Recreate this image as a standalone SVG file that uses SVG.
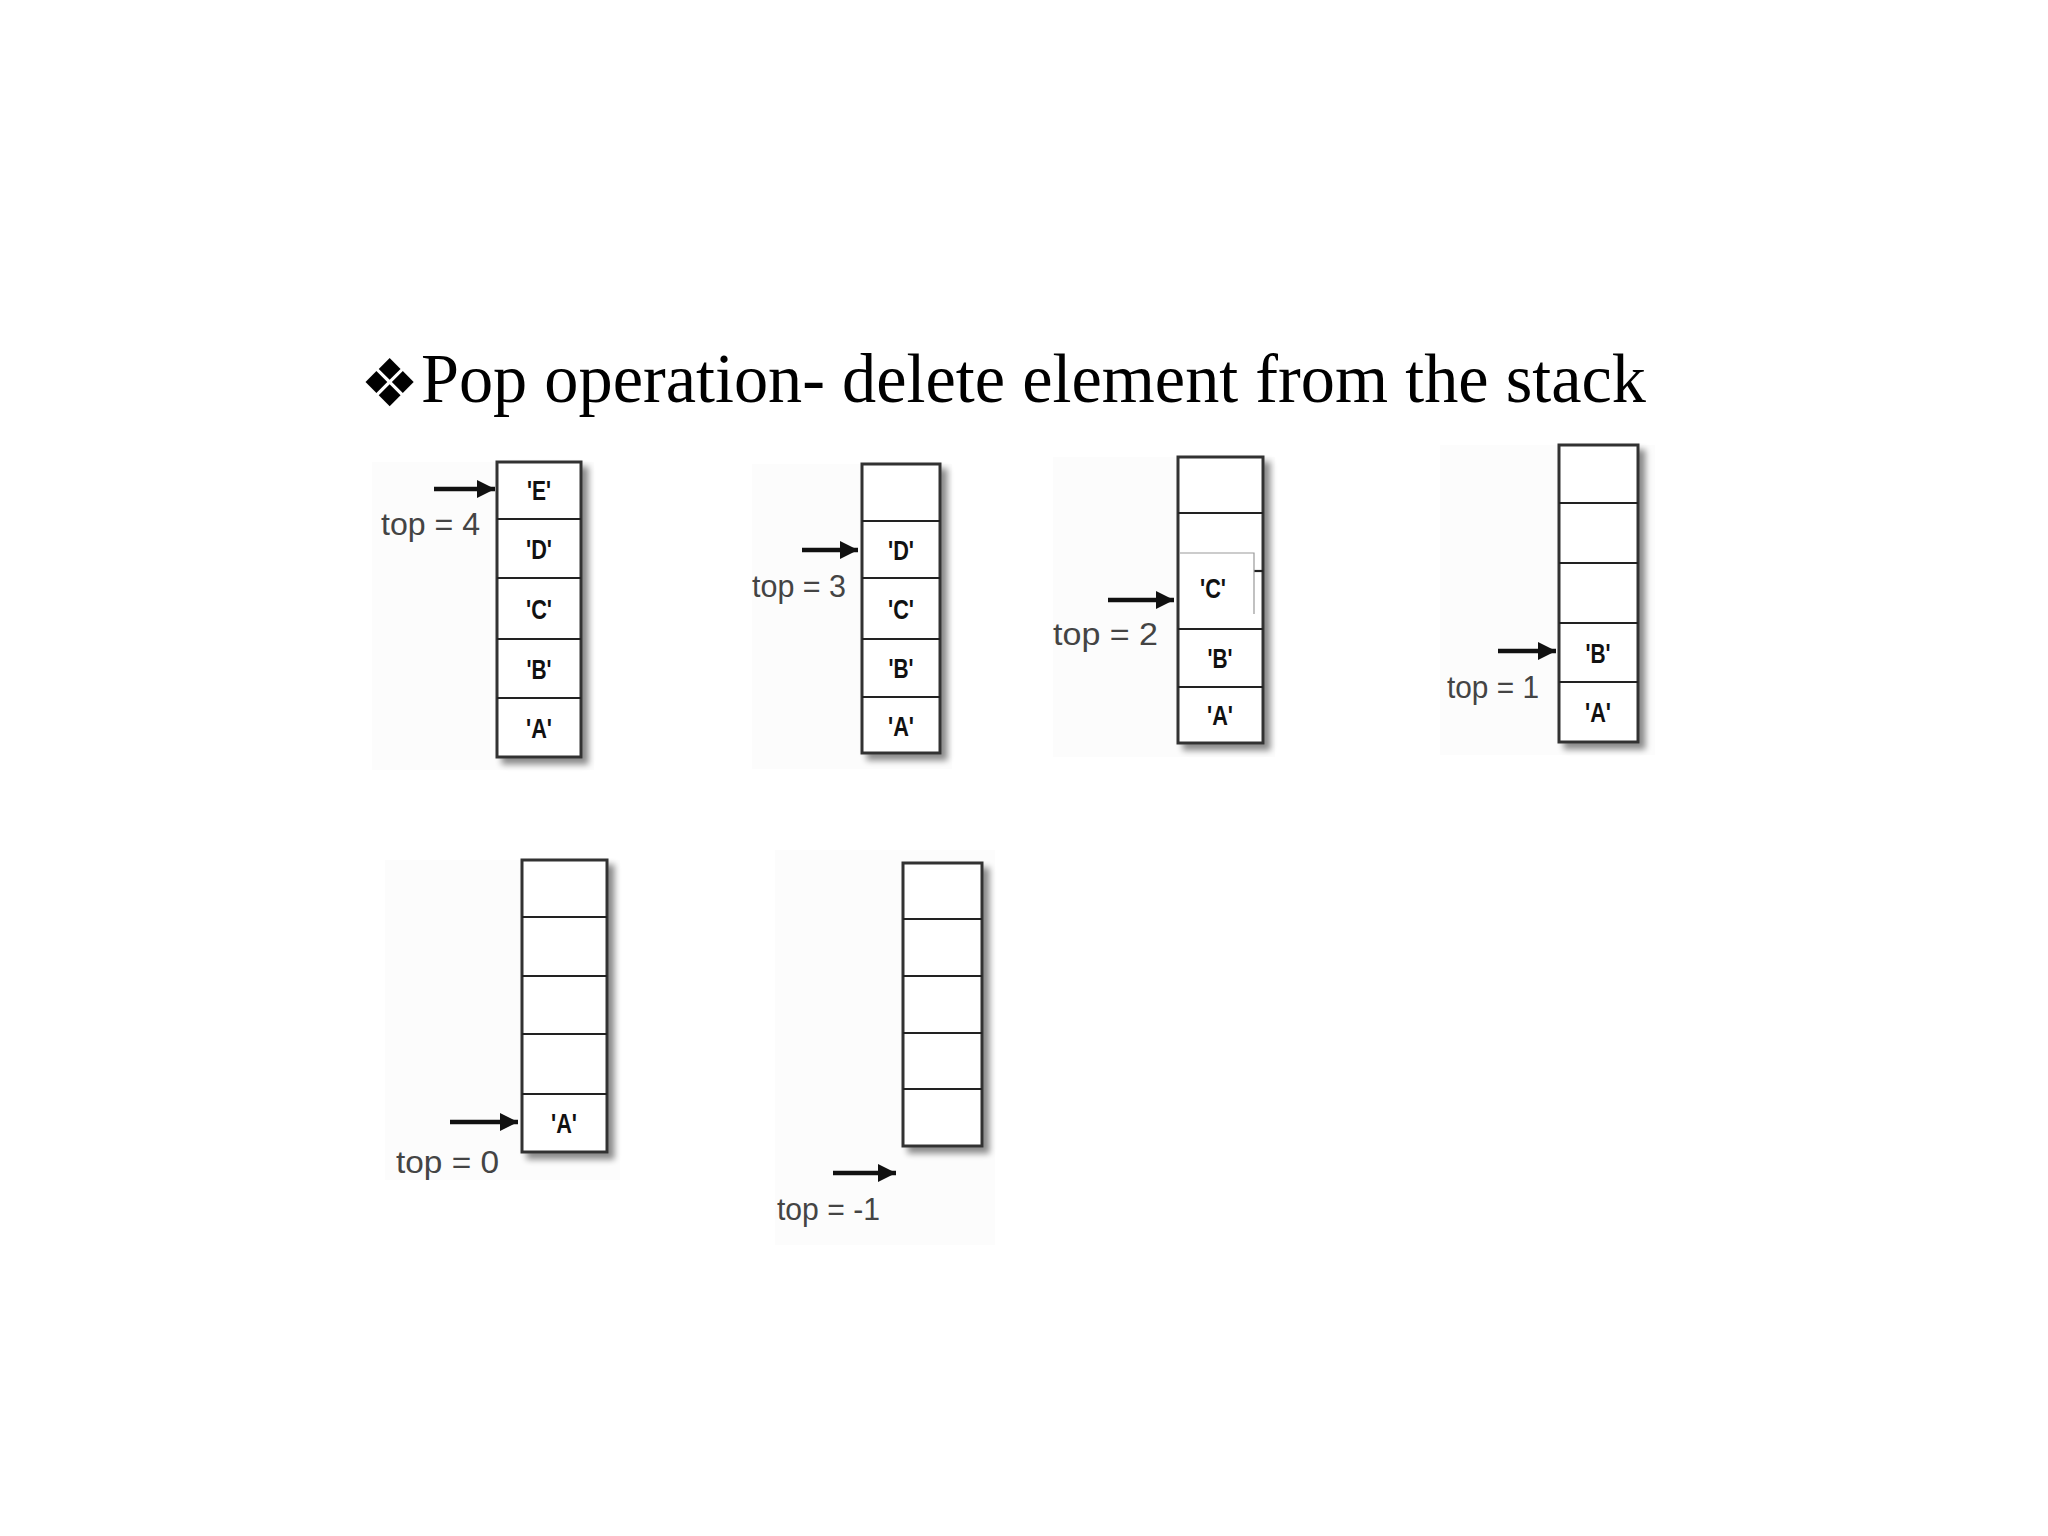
<svg xmlns="http://www.w3.org/2000/svg" width="2048" height="1536" viewBox="0 0 2048 1536">
<defs>
<marker id="ah" viewBox="0 0 10 10" refX="10" refY="5" markerWidth="4.5" markerHeight="4" markerUnits="strokeWidth" orient="auto">
<path d="M0,0 L10,5 L0,10 z" fill="#111"/>
</marker>
<filter id="sh" x="-20%" y="-10%" width="150%" height="130%">
<feGaussianBlur in="SourceAlpha" stdDeviation="3"/>
<feOffset dx="6" dy="6" result="b"/>
<feComponentTransfer><feFuncA type="linear" slope="0.45"/></feComponentTransfer>
<feMerge><feMergeNode/><feMergeNode in="SourceGraphic"/></feMerge>
</filter>
</defs>
<style>
.bg{fill:#fcfcfc}
.box{fill:#fff;stroke:#333;stroke-width:3}
.div{stroke:#222;stroke-width:2.2}
.cell{font-family:"Liberation Sans",Arial,sans-serif;font-weight:bold;font-size:27px;fill:#111;text-anchor:middle}
.lbl{font-family:"Liberation Sans",Arial,sans-serif;font-size:32px;fill:#444}
.arr{stroke:#111;stroke-width:4.5;fill:none;marker-end:url(#ah)}
.title{font-family:"Liberation Serif","Times New Roman",serif;font-size:69px;fill:#000}
</style>
<rect width="2048" height="1536" fill="#fff"/>
<g id="title">
<text x="360" y="406" font-family="DejaVu Sans,sans-serif" font-size="66" fill="#000">❖</text>
<text class="title" x="421" y="402" textLength="1225" lengthAdjust="spacingAndGlyphs">Pop operation- delete element from the stack</text>
</g>
<g id="stack1">
<rect class="bg" x="372" y="462" width="222" height="308"/>
<rect class="box" x="497" y="462" width="84" height="295" filter="url(#sh)"/>
<line class="div" x1="497" y1="519" x2="581" y2="519"/>
<line class="div" x1="497" y1="578" x2="581" y2="578"/>
<line class="div" x1="497" y1="639" x2="581" y2="639"/>
<line class="div" x1="497" y1="698" x2="581" y2="698"/>
<text class="cell" x="539" y="500" textLength="24" lengthAdjust="spacingAndGlyphs">'E'</text>
<text class="cell" x="539" y="559" textLength="26" lengthAdjust="spacingAndGlyphs">'D'</text>
<text class="cell" x="539" y="619" textLength="26" lengthAdjust="spacingAndGlyphs">'C'</text>
<text class="cell" x="539" y="679" textLength="25" lengthAdjust="spacingAndGlyphs">'B'</text>
<text class="cell" x="539" y="738" textLength="26" lengthAdjust="spacingAndGlyphs">'A'</text>
<text class="lbl" x="381" y="535" textLength="99" lengthAdjust="spacingAndGlyphs">top = 4</text>
</g>
<g id="stack2">
<rect class="bg" x="752" y="464" width="200" height="305"/>
<rect class="box" x="862" y="464" width="78" height="289" filter="url(#sh)"/>
<line class="div" x1="862" y1="521" x2="940" y2="521"/>
<line class="div" x1="862" y1="578" x2="940" y2="578"/>
<line class="div" x1="862" y1="639" x2="940" y2="639"/>
<line class="div" x1="862" y1="697" x2="940" y2="697"/>
<text class="cell" x="901" y="560" textLength="26" lengthAdjust="spacingAndGlyphs">'D'</text>
<text class="cell" x="901" y="619" textLength="26" lengthAdjust="spacingAndGlyphs">'C'</text>
<text class="cell" x="901" y="678" textLength="25" lengthAdjust="spacingAndGlyphs">'B'</text>
<text class="cell" x="901" y="736" textLength="26" lengthAdjust="spacingAndGlyphs">'A'</text>
<text class="lbl" x="752" y="597" textLength="94" lengthAdjust="spacingAndGlyphs">top = 3</text>
</g>
<g id="stack3">
<rect class="bg" x="1053" y="457" width="222" height="300"/>
<rect class="box" x="1178" y="457" width="85" height="286" filter="url(#sh)"/>
<line class="div" x1="1178" y1="513" x2="1263" y2="513"/>
<line class="div" x1="1254" y1="571" x2="1263" y2="571"/>
<line class="div" x1="1178" y1="629" x2="1263" y2="629"/>
<line class="div" x1="1178" y1="687" x2="1263" y2="687"/>
<rect x="1180" y="553" width="74" height="61" fill="#fff"/>
<path d="M1180,553 H1254 V614" fill="none" stroke="#999" stroke-width="1.2"/>
<text class="cell" x="1213" y="598" textLength="26" lengthAdjust="spacingAndGlyphs">'C'</text>
<text class="cell" x="1220" y="668" textLength="25" lengthAdjust="spacingAndGlyphs">'B'</text>
<text class="cell" x="1220" y="725" textLength="26" lengthAdjust="spacingAndGlyphs">'A'</text>
<text class="lbl" x="1053" y="645" textLength="105" lengthAdjust="spacingAndGlyphs">top = 2</text>
</g>
<g id="stack4">
<rect class="bg" x="1440" y="445" width="215" height="310"/>
<rect class="box" x="1559" y="445" width="79" height="297" filter="url(#sh)"/>
<line class="div" x1="1559" y1="503" x2="1638" y2="503"/>
<line class="div" x1="1559" y1="563" x2="1638" y2="563"/>
<line class="div" x1="1559" y1="623" x2="1638" y2="623"/>
<line class="div" x1="1559" y1="682" x2="1638" y2="682"/>
<text class="cell" x="1598" y="663" textLength="25" lengthAdjust="spacingAndGlyphs">'B'</text>
<text class="cell" x="1598" y="722" textLength="26" lengthAdjust="spacingAndGlyphs">'A'</text>
<text class="lbl" x="1447" y="698" textLength="92" lengthAdjust="spacingAndGlyphs">top = 1</text>
</g>
<g id="stack5">
<rect class="bg" x="385" y="860" width="235" height="320"/>
<rect class="box" x="522" y="860" width="85" height="292" filter="url(#sh)"/>
<line class="div" x1="522" y1="917" x2="607" y2="917"/>
<line class="div" x1="522" y1="976" x2="607" y2="976"/>
<line class="div" x1="522" y1="1034" x2="607" y2="1034"/>
<line class="div" x1="522" y1="1094" x2="607" y2="1094"/>
<text class="cell" x="564" y="1133" textLength="26" lengthAdjust="spacingAndGlyphs">'A'</text>
<text class="lbl" x="396" y="1173" textLength="103" lengthAdjust="spacingAndGlyphs">top = 0</text>
</g>
<g id="stack6">
<rect class="bg" x="775" y="850" width="220" height="395"/>
<rect class="box" x="903" y="863" width="79" height="283" filter="url(#sh)"/>
<line class="div" x1="903" y1="919" x2="982" y2="919"/>
<line class="div" x1="903" y1="976" x2="982" y2="976"/>
<line class="div" x1="903" y1="1033" x2="982" y2="1033"/>
<line class="div" x1="903" y1="1089" x2="982" y2="1089"/>
<text class="lbl" x="777" y="1220" textLength="103" lengthAdjust="spacingAndGlyphs">top = -1</text>
</g>
<g id="connectors">
<line class="arr" x1="434" y1="489" x2="495" y2="489"/>
<line class="arr" x1="802" y1="550" x2="858" y2="550"/>
<line class="arr" x1="1108" y1="600" x2="1174" y2="600"/>
<line class="arr" x1="1498" y1="651" x2="1556" y2="651"/>
<line class="arr" x1="450" y1="1122" x2="518" y2="1122"/>
<line class="arr" x1="833" y1="1173" x2="896" y2="1173"/>
</g>
</svg>
